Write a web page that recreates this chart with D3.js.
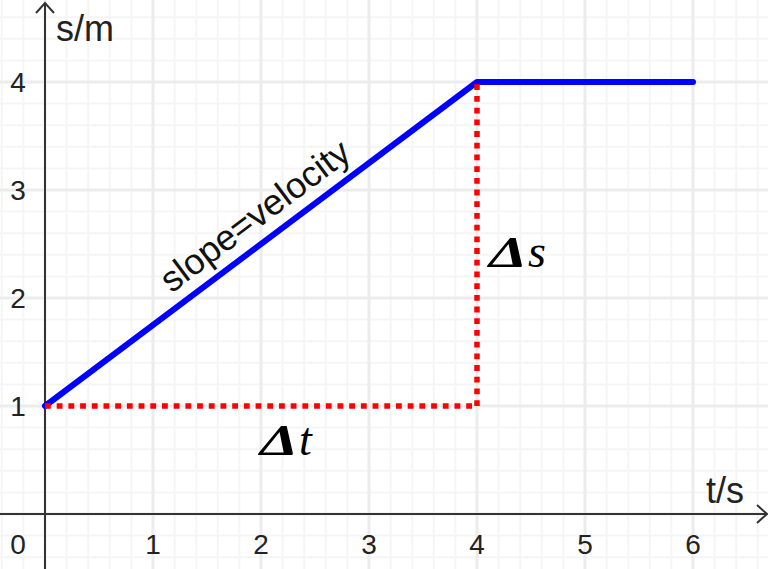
<!DOCTYPE html>
<html><head><meta charset="utf-8">
<script src="https://cdn.jsdelivr.net/npm/d3@7"></script>
<style>html,body{margin:0;padding:0;background:#fff;}svg{display:block;}</style>
</head><body><svg id="c" width="768" height="569"></svg>
<script>
// data
const timeValues = [0, 4, 6];
const positionValues = [1, 4, 4];
const xTicks = [1, 2, 3, 4, 5, 6];
const yTicks = [1, 2, 3, 4];
const deltaT = [[0, 1], [4, 1]];
const deltaS = [[4, 1], [4, 4]];
const xLabel = "t/s", yLabel = "s/m", slopeLabel = "slope=velocity";

const W = 768, H = 569;
const svg = d3.select("#c");
const x = d3.scaleLinear().domain([0, 6]).range([45, 693]);
const y = d3.scaleLinear().domain([0, 4]).range([514, 82]);

// grid
const xMin = x.invert(0), xMax = x.invert(W), yMin = y.invert(H), yMax = y.invert(0);
const minorX = d3.range(Math.ceil(xMin * 5), Math.floor(xMax * 5) + 1).map(d => d / 5);
const minorY = d3.range(Math.ceil(yMin * 5), Math.floor(yMax * 5) + 1).map(d => d / 5);
const g = svg.append("g");
g.selectAll(".mx").data(minorX.filter(d => Math.abs(d - Math.round(d)) > 1e-6)).join("line")
  .attr("x1", d => x(d)).attr("x2", d => x(d)).attr("y1", 0).attr("y2", H)
  .attr("stroke", "#f5f5f5").attr("stroke-width", 2);
g.selectAll(".my").data(minorY.filter(d => Math.abs(d - Math.round(d)) > 1e-6)).join("line")
  .attr("y1", d => y(d)).attr("y2", d => y(d)).attr("x1", 0).attr("x2", W)
  .attr("stroke", "#f5f5f5").attr("stroke-width", 2);
const majorX = d3.range(Math.ceil(xMin), Math.floor(xMax) + 1);
const majorY = d3.range(Math.ceil(yMin), Math.floor(yMax) + 1);
g.selectAll(".Mx").data(majorX).join("line")
  .attr("x1", d => x(d)).attr("x2", d => x(d)).attr("y1", 0).attr("y2", H)
  .attr("stroke", "#ececec").attr("stroke-width", 3);
g.selectAll(".My").data(majorY).join("line")
  .attr("y1", d => y(d)).attr("y2", d => y(d)).attr("x1", 0).attr("x2", W)
  .attr("stroke", "#ececec").attr("stroke-width", 3);

// axes
const ax = svg.append("g").attr("stroke", "#333").attr("stroke-width", 2).attr("fill", "none");
ax.append("line").attr("x1", 0).attr("x2", W - 1).attr("y1", y(0)).attr("y2", y(0));
ax.append("line").attr("x1", x(0)).attr("x2", x(0)).attr("y1", 3).attr("y2", H);
ax.append("path").attr("d", `M${W - 11},${y(0) - 9}L${W - 1},${y(0)}L${W - 11},${y(0) + 9}`);
ax.append("path").attr("d", `M${x(0) - 9},${13}L${x(0)},${3}L${x(0) + 9},${13}`);

const font = "'Liberation Sans', Arial, sans-serif";
const tl = svg.append("g").attr("font-family", font).attr("font-size", 28).attr("fill", "#222");
tl.selectAll(".xt").data(xTicks).join("text").attr("x", d => x(d)).attr("y", y(0) + 40)
  .attr("text-anchor", "middle").text(d => d);
tl.append("text").attr("x", 18).attr("y", y(0) + 40).attr("text-anchor", "middle").text("0");
tl.selectAll(".yt").data(yTicks).join("text").attr("x", 18).attr("y", d => y(d) + 10)
  .attr("text-anchor", "middle").text(d => d);
svg.append("text").attr("x", 56).attr("y", 41).attr("font-family", font).attr("font-size", 36).attr("fill", "#222").text(yLabel);
svg.append("text").attr("x", 706).attr("y", 503).attr("font-family", font).attr("font-size", 36).attr("fill", "#222").text(xLabel);

// line
const line = d3.line().x(d => x(d[0])).y(d => y(d[1]));
const pts = timeValues.map((t, i) => [t, positionValues[i]]);
svg.append("path").attr("d", line(pts)).attr("fill", "none").attr("stroke", "#0000ff")
  .attr("stroke-width", 6).attr("stroke-linecap", "round").attr("stroke-linejoin", "round");

[deltaT, deltaS].forEach(seg => {
  svg.append("path").attr("d", line(seg)).attr("fill", "none").attr("stroke", "#ff0000")
    .attr("stroke-width", 5.5).attr("stroke-dasharray", "5.8 5.9");
});

// slope label
const ang = Math.atan2(y(pts[1][1]) - y(pts[0][1]), x(pts[1][0]) - x(pts[0][0])) * 180 / Math.PI;
const mx = 2.09, my = pts[0][1] + (pts[1][1] - pts[0][1]) / (pts[1][0] - pts[0][0]) * mx;
svg.append("text").attr("transform", `translate(${x(mx)},${y(my)}) rotate(${ang})`)
  .attr("dy", -14).attr("text-anchor", "middle").attr("font-family", font).attr("font-size", 36)
  .attr("fill", "#111").text(slopeLabel);

// delta labels
function delta(tx, ty, v) {
  const gx = svg.append("g").attr("transform", `translate(${x(tx)},${y(ty)})`);
  gx.append("text").attr("transform", "scale(1.35,1)").attr("font-family", "'Liberation Serif', serif")
    .attr("font-size", 45).attr("font-weight", "bold").attr("font-style", "italic").attr("fill", "#000").text("Δ");
  gx.append("text").attr("x", 39).attr("font-family", "'Liberation Serif', serif")
    .attr("font-size", 46).attr("font-style", "italic").attr("fill", "#000").text(v);
}
delta(1.99, 0.546, "t");
delta(4.11, 2.29, "s");
</script></body></html>
